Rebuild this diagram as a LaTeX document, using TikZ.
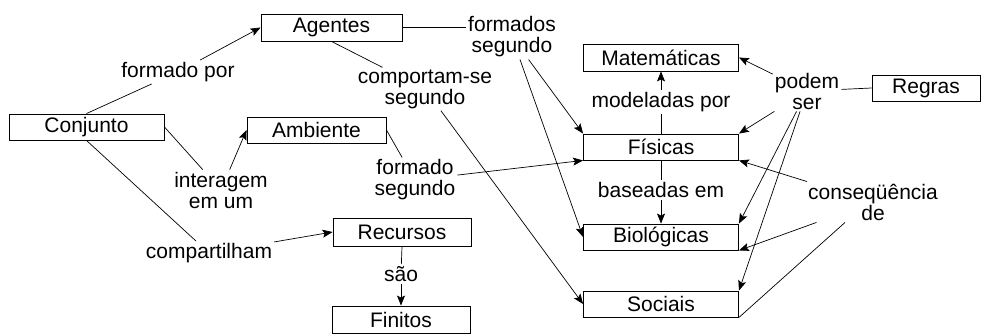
\documentclass[tikz,border=0pt]{standalone}
\usepackage{fontspec}
\setmainfont{Liberation Sans}
\usetikzlibrary{arrows.meta}

\begin{document}
\begin{tikzpicture}[x=1pt,y=-1pt, concept/.style={rectangle,draw,
            line width=0.9pt,minimum height=26pt,inner sep=0pt},
          link/.style={align=center,inner sep=2pt},
          conn/.style={line width=0.7pt},
          >={Stealth[length=10pt,width=8pt,inset=2pt]},
          font=\fontsize{21}{21}\selectfont]

          \useasboundingbox (0,0) rectangle (981,334);

          \node[concept,minimum width=141pt,minimum height=27pt] (ag) at (331.5,27.5) {Agentes};
          \node[concept,minimum width=155pt] (conj) at (86.5,127) {Conjunto};
          \node[concept,minimum width=139pt] (amb) at (316.5,130) {Ambiente};
          \node[concept,minimum width=155pt,minimum height=27pt] (mat) at (661,57.5) {Matemáticas};
          \node[concept,minimum width=108pt] (reg) at (926,88) {Regras};
          \node[concept,minimum width=155pt] (fis) at (661,147) {Físicas};
          \node[concept,minimum width=155pt] (bio) at (661,237) {Biológicas};
          \node[concept,minimum width=155pt] (soc) at (661,304) {Sociais};
          \node[concept,minimum width=138pt,minimum height=28pt] (rec) at (402,232) {Recursos};
          \node[concept,minimum width=138pt,minimum height=27pt] (fin) at (401,319.5) {Finitos};

          \node[link] (fpor) at (178,72) {formado por};
          \node[link] (comp) at (425,89) {comportam-se\\segundo};
          \node[link] (fseg) at (512,37) {formados\\segundo};
          \node[link] (inter) at (221,190) {interagem\\em um};
          \node[link] (fmseg) at (415,180) {formado\\segundo};
          \node[link] (compt) at (209,253) {compartilham};
          \node[link] (sao) at (401,274) {são};
          \node[link] (model) at (661,102) {modeladas por};
          \node[link] (basd) at (661,190) {baseadas em};
          \node[link] (podem) at (807,91) {podem\\ser};
          \node[link] (conseq) at (873,202) {conseqüência\\de};

          \draw[conn] (conj.north) -- (fpor);
          \draw[conn,->] (fpor) -- (ag.west);
          \draw[conn] (conj.east) -- (inter);
          \draw[conn,->] (inter) -- (amb.west);
          \draw[conn] (conj.south) -- (compt);
          \draw[conn,->] (compt) -- (rec.west);
          \draw[conn] (ag.east) -- (fseg.west |- ag.east);
          \draw[conn,->] (fseg) -- (fis.north west);
          \draw[conn,->] (fseg) -- (bio.west);
          \draw[conn] (ag.south) -- (comp);
          \draw[conn,->] (comp) -- (soc.west);
          \draw[conn] (amb.east) -- (fmseg);
          \draw[conn,->] (fmseg) -- (fis.south west);
          \draw[conn] (rec.south) -- (sao);
          \draw[conn,->] (sao) -- (fin.north);
          \draw[conn] (fis.north) -- (model);
          \draw[conn,->] (model) -- (mat.south);
          \draw[conn] (fis.south) -- (basd);
          \draw[conn,->] (basd) -- (bio.north);
          \draw[conn] (reg.west) -- (podem);
          \draw[conn,->] (podem) -- (mat.east);
          \draw[conn,->] (podem) -- (fis.north east);
          \draw[conn,->] (podem) -- (bio.north east);
          \draw[conn,->] (podem) -- (soc.north east);
          \draw[conn,->] (conseq) -- (fis.south east);
          \draw[conn,->] (conseq) -- (bio.south east);
          \draw[conn] ([xshift=-28pt]conseq.south) -- (soc.south east);
        \end{tikzpicture}
\end{document}
